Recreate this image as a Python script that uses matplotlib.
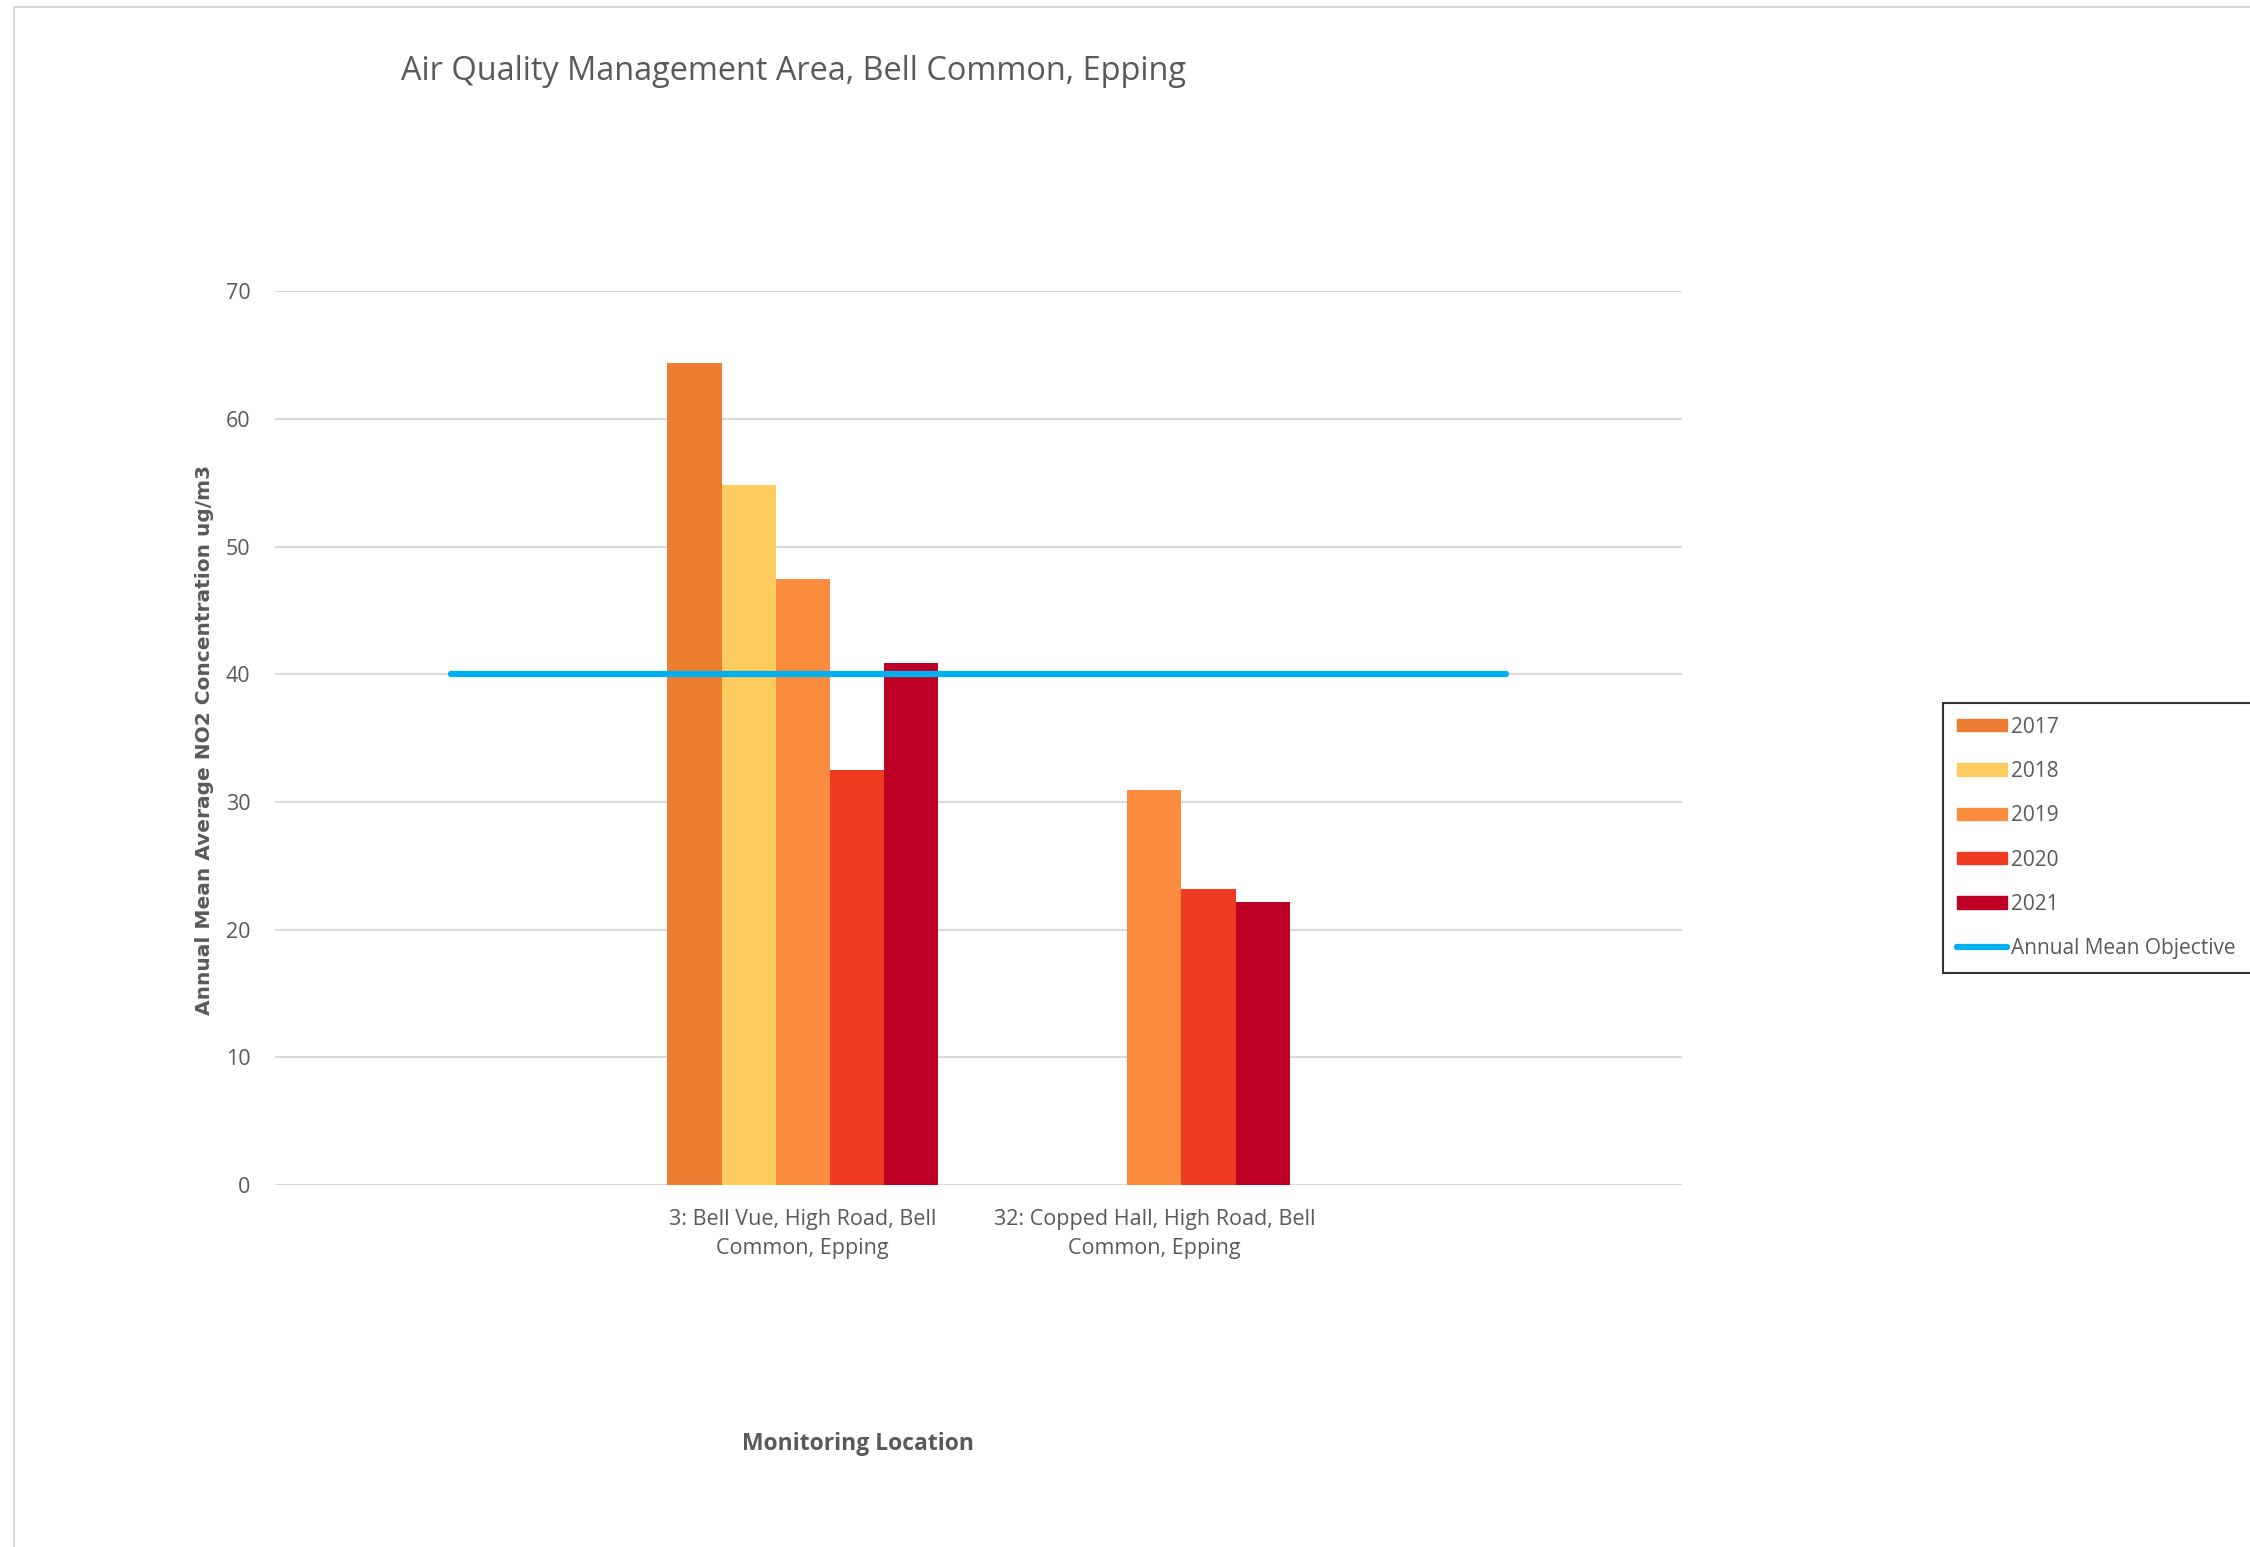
import numpy as np
import matplotlib
matplotlib.use("Agg")
import matplotlib.pyplot as plt
from matplotlib.patches import Rectangle
from matplotlib.lines import Line2D

# annual mean NO2 at the two diffusion tubes, ug/m3
locations = ["", "3: Bell Vue, High Road, Bell\nCommon, Epping",
             "32: Copped Hall, High Road, Bell\nCommon, Epping", ""]
years = ["2017", "2018", "2019", "2020", "2021"]
no2_2017 = [np.nan, 64.4, np.nan, np.nan]
no2_2018 = [np.nan, 54.8, np.nan, np.nan]
no2_2019 = [np.nan, 47.5, 30.9, np.nan]
no2_2020 = [np.nan, 32.5, 23.2, np.nan]
no2_2021 = [np.nan, 40.9, 22.2, np.nan]
objective = [40, 40, 40, 40]

colours = ["#ED7D31", "#FDCB5E", "#FB8B3D", "#EE3B22", "#BE0027"]
grey = "#595959"
font = "Open Sans"

fig = plt.figure(figsize=(22.5, 15.47), dpi=100)
ax = fig.add_axes([0.1224, 0.234, 0.625, 0.5777])

x = np.arange(len(locations))
w = 0.154
series = [no2_2017, no2_2018, no2_2019, no2_2020, no2_2021]
handles = []
for i, (yr, vals) in enumerate(zip(years, series)):
    ax.bar(x + (i - 2) * w, vals, width=w, color=colours[i], zorder=3)
    handles.append(Rectangle((0, 0), 1, 1, color=colours[i], label=yr))

ax.plot(x, objective, color="#00B0F0", lw=4.5, solid_capstyle="round", zorder=4)
handles.append(Line2D([], [], color="#00B0F0", lw=4.5, solid_capstyle="round",
                      label="Annual Mean Objective"))

ax.set_xlim(-0.5, 3.5)
ax.set_ylim(0, 70)
ax.set_yticks(range(0, 71, 10))
ax.set_xticks(x)
ax.set_xticklabels(locations, family=font, fontsize=15.5, color=grey,
                   linespacing=1.5)
for lab in ax.get_yticklabels():
    lab.set_family(font)
    lab.set_fontsize(15.5)
    lab.set_color(grey)
ax.tick_params(axis="both", length=0)
ax.tick_params(axis="y", pad=18)
ax.tick_params(axis="x", pad=17)
ax.yaxis.grid(True, color="#D9D9D9", lw=1.5, zorder=0)
for s in ax.spines.values():
    s.set_visible(False)

fig.text(794 / 2250, 1 - 72 / 1547, "Air Quality Management Area, Bell Common, Epping",
         family=font, fontsize=23.4, color=grey, ha="center", va="center")
fig.text(205 / 2250, 1 - 740 / 1547, "Annual Mean Average NO2 Concentration ug/m3",
         family="DejaVu Sans", fontweight="bold", fontsize=14.5, color=grey,
         rotation=90, ha="center", va="center")
fig.text(858 / 2250, 1 - 1444 / 1547, "Monitoring Location",
         family=font, fontweight="bold", fontsize=16.5, color=grey,
         ha="center", va="center")

# legend box runs off the right edge of the figure
leg = fig.legend(handles=handles, loc="upper left", mode="expand",
                 bbox_to_anchor=(1943 / 2250, 1 - 703 / 1547, 0.2, 0),
                 prop={"family": font, "size": 15}, labelcolor=grey,
                 frameon=True, fancybox=False, handlelength=2.4,
                 handleheight=0.55, handletextpad=0.2, labelspacing=1.12,
                 borderpad=0.65, borderaxespad=0)
leg.get_frame().set_edgecolor("black")
leg.get_frame().set_linewidth(1.5)

# light outer chart border
fig.patches.append(Rectangle((14 / 2250, -0.1), 1.2, 1 - 7 / 1547 + 0.1,
                             transform=fig.transFigure, fill=False,
                             edgecolor="#D9D9D9", lw=1.5))

fig.savefig("out.png", dpi=100)
